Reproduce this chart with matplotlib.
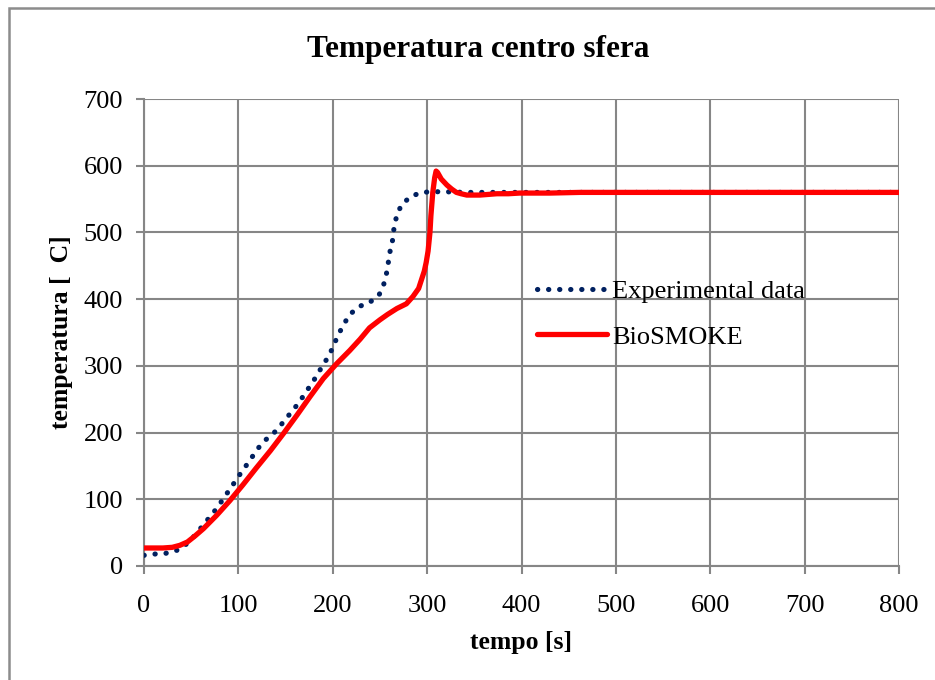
import matplotlib
matplotlib.use("Agg")
import matplotlib.pyplot as plt
from matplotlib.patches import Rectangle

# Measured temperature at the sphere centre
exp_time = [0, 12, 23, 36, 46, 54, 62, 70, 78, 85, 92, 99, 106, 113, 120, 128,
            138, 146, 154, 162, 169, 176, 183, 189, 196, 201, 206, 212, 218,
            228, 239, 249, 254, 257, 259, 261, 264, 265, 268, 273, 283, 294,
            306, 319, 340, 400, 500, 600, 700, 800]
exp_temp = [16, 18, 19, 24, 34, 46, 60, 74, 88, 103, 117, 132, 146, 160, 175,
            188, 200, 213, 227, 241, 255, 270, 285, 300, 315, 331, 347, 363,
            377, 389, 395, 406, 422, 439, 456, 474, 492, 509, 526, 542, 554,
            560, 561, 561, 560, 560, 560, 560, 560, 560]

# BioSMOKE model prediction
sim_time = [0, 20, 30, 38, 46, 54, 63, 77, 91, 105, 119, 134, 148, 162, 176,
            190, 204, 218, 229, 239, 250, 258, 268, 278, 285, 291, 294, 297,
            299, 301, 303, 304, 306, 308, 309.5, 311, 315, 321, 326, 331, 336,
            342, 350, 356, 365, 374, 386, 398, 430, 462, 550, 650, 800]
sim_temp = [27, 27, 28, 31, 36, 45, 56, 76, 98, 122, 147, 173, 199, 226, 254,
            281, 303, 323, 340, 357, 369, 377, 386, 393, 404, 416, 429, 442,
            455, 472, 500, 525, 560, 582, 592, 590, 580, 571, 565, 560, 558,
            556, 556, 556, 557, 558, 558, 559, 559, 560, 560, 560, 560]

x_ticks = [0, 100, 200, 300, 400, 500, 600, 700, 800]
y_ticks = [0, 100, 200, 300, 400, 500, 600, 700]

serif = ["Liberation Serif", "DejaVu Serif"]
grey = "#868686"

fig = plt.figure(figsize=(9.35, 6.8), dpi=100)
fig.patch.set_facecolor("white")

# Chart-area border
fig.patches.append(Rectangle((9 / 935, -0.05), 1.2, (680 - 8.5) / 680 + 0.05,
                             transform=fig.transFigure, fill=False,
                             edgecolor="#8c8c8c", linewidth=1.8, zorder=0))

ax = fig.add_axes([144 / 935, (680 - 566) / 680, (899 - 144) / 935,
                   (566 - 99) / 680])

ax.plot(exp_time, exp_temp, color="#002060", linewidth=3.7,
        linestyle=(0, (0.05, 2.1)), dash_capstyle="round",
        label="Experimental data", zorder=3)
ax.plot(sim_time, sim_temp, color="#ff0000", linewidth=3.8,
        solid_capstyle="round", solid_joinstyle="round",
        label="BioSMOKE", zorder=4)

ax.set_xlim(0, 800)
ax.set_ylim(0, 700)
ax.set_xticks(x_ticks)
ax.set_yticks(y_ticks)
ax.set_xticklabels([str(v) for v in x_ticks], family=serif, fontsize=19)
ax.set_yticklabels([str(v) for v in y_ticks], family=serif, fontsize=19)

ax.grid(True, color=grey, linewidth=1.5)
ax.set_axisbelow(True)
for side in ("top", "right"):
    ax.spines[side].set_visible(False)
for side in ("left", "bottom"):
    ax.spines[side].set_color(grey)
    ax.spines[side].set_linewidth(1.5)
ax.tick_params(axis="both", direction="out", length=6, width=1.5,
               color=grey)
ax.tick_params(axis="x", pad=15)
ax.tick_params(axis="y", pad=9)

fig.text(478 / 935, 1 - 50 / 680, "Temperatura centro sfera", family=serif,
         fontsize=22.5, fontweight="bold", ha="center", va="center")
ax.set_xlabel("tempo [s]", family=serif, fontsize=18.5, fontweight="bold",
              labelpad=10)
ax.set_ylabel("temperatura [  C]", family=serif, fontsize=18.5,
              fontweight="bold", labelpad=8)

leg = ax.legend(loc="upper left", frameon=False,
                prop={"family": serif, "size": 19},
                handlelength=2.65, handletextpad=0.2, labelspacing=0.82,
                borderaxespad=0, borderpad=0)
leg.set_bbox_to_anchor((537 / 935, (680 - 280) / 680), transform=fig.transFigure)

fig.savefig("out.png", dpi=100, facecolor="white")
